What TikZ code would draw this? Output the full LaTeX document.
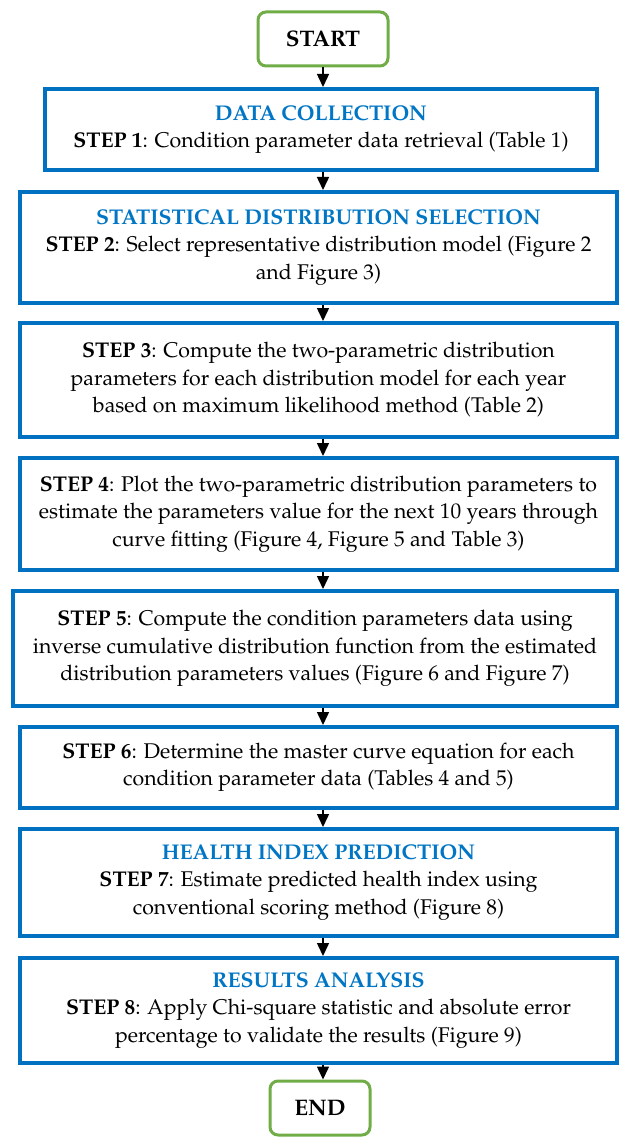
\documentclass[tikz,border=0pt]{standalone}
\usepackage[T1]{fontenc}
\usepackage{mathpazo}
\usetikzlibrary{arrows.meta}
\definecolor{boxblue}{RGB}{0,112,192}
\definecolor{titleblue}{RGB}{0,118,196}
\definecolor{termgreen}{RGB}{112,173,71}
\tikzset{
  stepbox/.style={draw=boxblue, line width=4pt, fill=white, align=center,
    font=\fontsize{21.3}{27.5}\selectfont, inner sep=2pt},
  term/.style={draw=termgreen, line width=3pt, rounded corners=8pt, fill=white,
    font=\fontsize{22.5}{27}\selectfont\bfseries, minimum width=130pt, minimum height=54pt},
  arr/.style={line width=1.5pt, -{Triangle[width=12pt,length=13pt]}}
}
\newcommand{\ttlx}[1]{\textcolor{titleblue}{\textbf{#1}}}
\begin{document}
\begin{tikzpicture}[x=1pt,y=-1pt]
\useasboundingbox (0,0) rectangle (619,1142);
\node[term] (start) at (323,39) {START};
\node[stepbox, minimum width=552pt, minimum height=81pt] (b1) at (321,129.5)
  {\ttlx{DATA COLLECTION}\\ \textbf{STEP 1}: Condition parameter data retrieval (Table 1)};
\node[stepbox, minimum width=597pt, minimum height=111pt] (b2) at (318.5,247.5)
  {\ttlx{STATISTICAL DISTRIBUTION SELECTION}\\ \textbf{STEP 2}: Select representative distribution model (Figure 2\\ and Figure 3)};
\node[stepbox, minimum width=597pt, minimum height=114pt] (b3) at (318.5,380)
  {\textbf{STEP 3}: Compute the two-parametric distribution\\ parameters for each distribution model for each year\\ based on maximum likelihood method (Table 2)};
\node[stepbox, minimum width=597pt, minimum height=112pt] (b4) at (318.5,514)
  {\textbf{STEP 4}: Plot the two-parametric distribution parameters to\\ estimate the parameters value for the next 10 years through\\ curve fitting (Figure 4, Figure 5 and Table 3)};
\node[stepbox, minimum width=604pt, minimum height=115pt] (b5) at (315,648.5)
  {\textbf{STEP 5}: Compute the condition parameters data using\\ inverse cumulative distribution function from the estimated\\ distribution parameters values (Figure 6 and Figure 7)};
\node[stepbox, minimum width=597pt, minimum height=81pt] (b6) at (318.5,767.5)
  {\textbf{STEP 6}: Determine the master curve equation for each\\ condition parameter data (Tables 4 and 5)};
\node[stepbox, minimum width=597pt, minimum height=107pt] (b7) at (318.5,882.5)
  {\ttlx{HEALTH INDEX PREDICTION}\\ \textbf{STEP 7}: Estimate predicted health index using\\ conventional scoring method (Figure 8)};
\node[stepbox, minimum width=597pt, minimum height=105pt] (b8) at (318.5,1010.5)
  {\ttlx{RESULTS ANALYSIS}\\ \textbf{STEP 8}: Apply Chi-square statistic and absolute error\\ percentage to validate the results (Figure 9)};
\node[term, minimum width=100pt] (end) at (320,1108) {END};
\draw[arr] (start.south) -- (start.south |- b1.north);
\draw[arr] (start.south |- b1.south) -- (start.south |- b2.north);
\draw[arr] (start.south |- b2.south) -- (start.south |- b3.north);
\draw[arr] (start.south |- b3.south) -- (start.south |- b4.north);
\draw[arr] (start.south |- b4.south) -- (start.south |- b5.north);
\draw[arr] (start.south |- b5.south) -- (start.south |- b6.north);
\draw[arr] (start.south |- b6.south) -- (start.south |- b7.north);
\draw[arr] (start.south |- b7.south) -- (start.south |- b8.north);
\draw[arr] (start.south |- b8.south) -- (start.south |- end.north);
\end{tikzpicture}
\end{document}
